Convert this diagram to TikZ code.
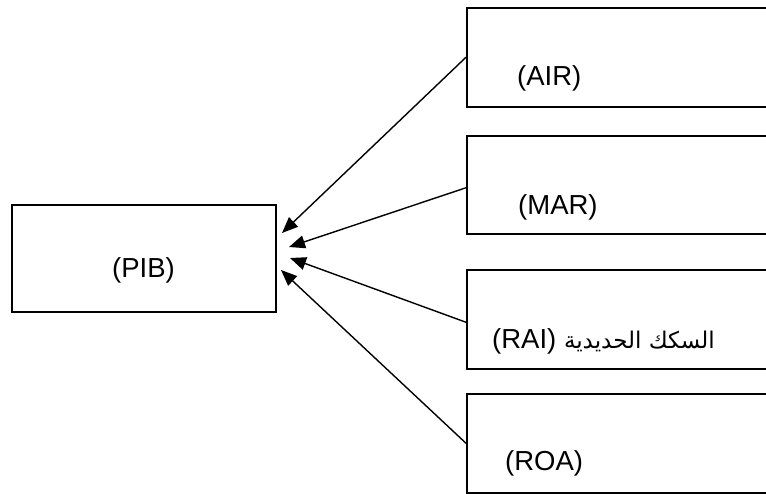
\documentclass[tikz,border=0pt]{standalone}
\usepackage{fontspec}
\setmainfont{Liberation Sans}
\newfontfamily\arabicfont[Script=Arabic]{DejaVu Sans}
\TeXXeTstate=1
\usetikzlibrary{arrows.meta}
\begin{document}
\begin{tikzpicture}[x=1pt,y=-1pt,
  box/.style={draw=black,line width=1.5pt,rectangle,inner sep=0pt,anchor=north west},
  lbl/.style={anchor=base west,inner sep=0pt,font=\fontsize{27.5}{32}\selectfont},
  conn/.style={line width=1.4pt,-{Triangle[length=16pt,width=13pt]}}]
\clip (0,0) rectangle (766,493);
\fill[white] (0,0) rectangle (766,493);
% boxes
\node[box,minimum width=264pt,minimum height=107pt] (pib) at (11,204) {};
\node[box,minimum width=320pt,minimum height=99pt] (air) at (466,7) {};
\node[box,minimum width=320pt,minimum height=98pt] (mar) at (466,135) {};
\node[box,minimum width=320pt,minimum height=99pt] (rai) at (466,269) {};
\node[box,minimum width=320pt,minimum height=99pt] (roa) at (466,393) {};
% labels
\node[lbl] (tpib) at (112,277) {(PIB)};
\node[lbl] (tair) at (517,85) {(AIR)};
\node[lbl] (tmar) at (518,214) {(MAR)};
\node[lbl] (trai) at (492,348) {\beginR{\arabicfont\fontsize{23}{28}\selectfont السكك الحديدية} \beginL(RAI)\endL\endR};
\node[lbl] (troa) at (505,470) {(ROA)};
% arrow targets
\coordinate (ta) at (282,233);
\coordinate (tm) at (289,247);
\coordinate (tr) at (290,258);
\coordinate (to) at (281,270);
\draw[conn] (air.west) -- (ta);
\draw[conn] ([yshift=-3pt]mar.west) -- (tm);
\draw[conn] ([yshift=-3pt]rai.west) -- (tr);
\draw[conn] (roa.west) -- (to);
\end{tikzpicture}
\end{document}
